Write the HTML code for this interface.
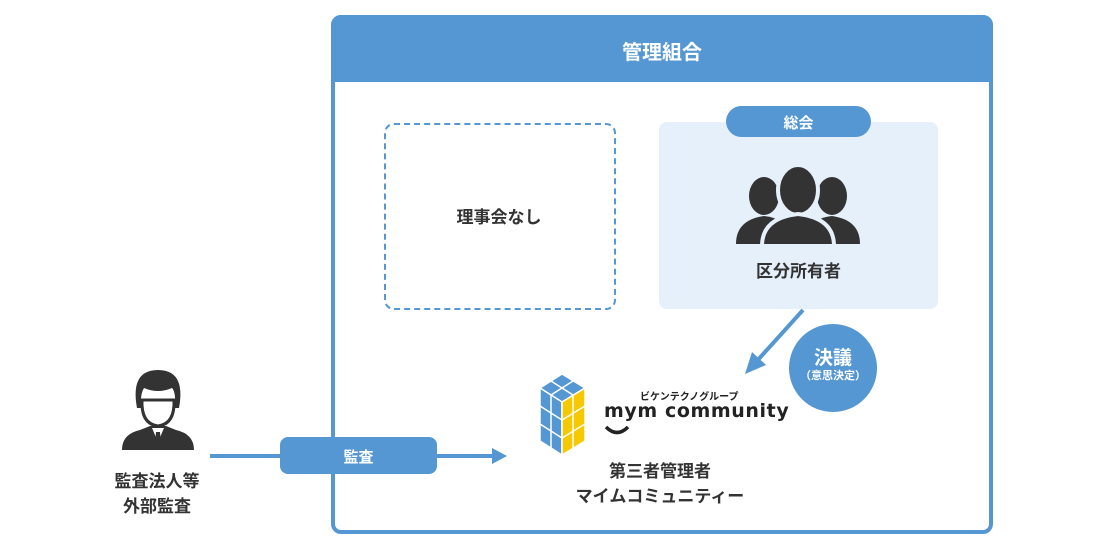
<!DOCTYPE html>
<html><head><meta charset="utf-8"><style>
body{margin:0;width:1101px;height:547px;background:#fff;position:relative;overflow:hidden;font-family:"Liberation Sans","Noto Sans CJK JP",sans-serif;font-weight:bold;color:#333}
.a{position:absolute}
.t{position:absolute;text-align:center;white-space:nowrap}
</style></head><body>
<div class="a" style="left:331px;top:15px;width:654px;height:511px;border:4px solid #5597d3;border-radius:10px"></div>
<div class="a" style="left:331px;top:15px;width:662px;height:67px;background:#5597d3;border-radius:10px 10px 0 0"></div>
<div class="t" style="left:331px;top:36px;width:662px;color:#fff;font-size:20px">管理組合</div>

<div class="a" style="left:384px;top:123px;width:228px;height:183px;border:2px dashed #5597d3;border-radius:10px"></div>
<div class="t" style="left:384px;top:203px;width:230px;font-size:17px">理事会なし</div>

<div class="a" style="left:659px;top:122px;width:279px;height:187px;background:#e6f0fa;border-radius:8px"></div>
<div class="a" style="left:726px;top:106px;width:145px;height:31px;background:#5597d3;border-radius:16px"></div>
<div class="t" style="left:726px;top:112px;width:145px;color:#fff;font-size:15px">総会</div>
<svg class="a" style="left:730px;top:160px" width="136" height="86" viewBox="0 0 136 86">
<g fill="#333">
<ellipse cx="34" cy="36" rx="15" ry="19"/><path d="M6 84 Q6 60 34 56 Q52 58 60 70 L60 84Z"/>
<ellipse cx="102" cy="36" rx="15" ry="19"/><path d="M130 84 Q130 60 102 56 Q84 58 76 70 L76 84Z"/>
</g>
<g fill="#333" stroke="#e6f0fa" stroke-width="4">
<ellipse cx="68" cy="30" rx="20" ry="25"/><path d="M32 86 Q32 58 68 54 Q104 58 104 86Z"/>
</g></svg>
<div class="t" style="left:659px;top:257px;width:279px;font-size:17px">区分所有者</div>

<svg class="a" style="left:0;top:0" width="1101" height="547">
<line x1="803" y1="310" x2="756" y2="362" stroke="#5597d3" stroke-width="4"/>
<polygon points="745,374 752,352 766,365" fill="#5597d3"/>
<line x1="210" y1="456" x2="494" y2="456" stroke="#5597d3" stroke-width="4"/>
<polygon points="507,456 492,448 492,464" fill="#5597d3"/>
<g stroke="#fff" stroke-width="1.5">
<polygon points="540,388 562,374 585,388 562,402" fill="#5597d3"/>
<polygon points="540,388 562,402 562,455 540,441" fill="#5597d3"/>
<polygon points="562,402 585,388 585,441 562,455" fill="#f5c800"/>
<line x1="540" y1="406" x2="562" y2="420"/><line x1="540" y1="424" x2="562" y2="438"/>
<line x1="551" y1="395" x2="551" y2="448"/>
<line x1="562" y1="420" x2="585" y2="406"/><line x1="562" y1="438" x2="585" y2="424"/>
<line x1="573" y1="395" x2="573" y2="448"/>
<line x1="551" y1="381" x2="573" y2="395"/><line x1="573" y1="381" x2="551" y2="395"/>
</g>
<path d="M606 427 Q617 438 628 427" fill="none" stroke="#222" stroke-width="3.5"/>
</svg>
<div class="t" style="left:640px;top:388px;font-size:10px;color:#222">ビケンテクノグループ</div>
<div class="t" style="left:604px;top:400px;font-size:19px;letter-spacing:0.6px;color:#222;font-family:'DejaVu Sans',sans-serif">mym community</div>
<div class="t" style="left:560px;top:457px;width:200px;font-size:17px">第三者管理者</div>
<div class="t" style="left:560px;top:482px;width:200px;font-size:17px">マイムコミュニティー</div>

<div class="a" style="left:789px;top:324px;width:88px;height:88px;border-radius:50%;background:#5597d3"></div>
<div class="t" style="left:789px;top:343px;width:88px;color:#fff;font-size:19px">決議</div>
<div class="t" style="left:789px;top:367px;width:88px;color:#fff;font-size:11px">（意思決定）</div>

<div class="a" style="left:280px;top:437px;width:157px;height:37px;background:#5597d3;border-radius:8px"></div>
<div class="t" style="left:280px;top:446px;width:157px;color:#fff;font-size:15px">監査</div>

<svg class="a" style="left:118px;top:368px" width="80" height="84" viewBox="0 0 80 84">
<path d="M4 82 Q4 66 22 62 L32 58 L48 58 L58 62 Q76 66 76 82Z" fill="#333"/>
<path d="M34 60 L40 74 L46 60Z" fill="#fff"/>
<path d="M38 64 L42 64 L43 78 L40 81 L37 78Z" fill="#333"/>
<path d="M24 32 Q23 56 40 58 Q57 56 56 32 Z" fill="#fff" stroke="#333" stroke-width="3"/>
<path d="M19 40 Q12 2 40 2 Q68 2 61 40 L57 40 Q58 24 54 20 Q40 26 26 20 Q22 26 23 40Z" fill="#333"/>
</svg>
<div class="t" style="left:97px;top:467px;width:120px;font-size:17px">監査法人等</div>
<div class="t" style="left:97px;top:492px;width:120px;font-size:17px">外部監査</div>
</body></html>
